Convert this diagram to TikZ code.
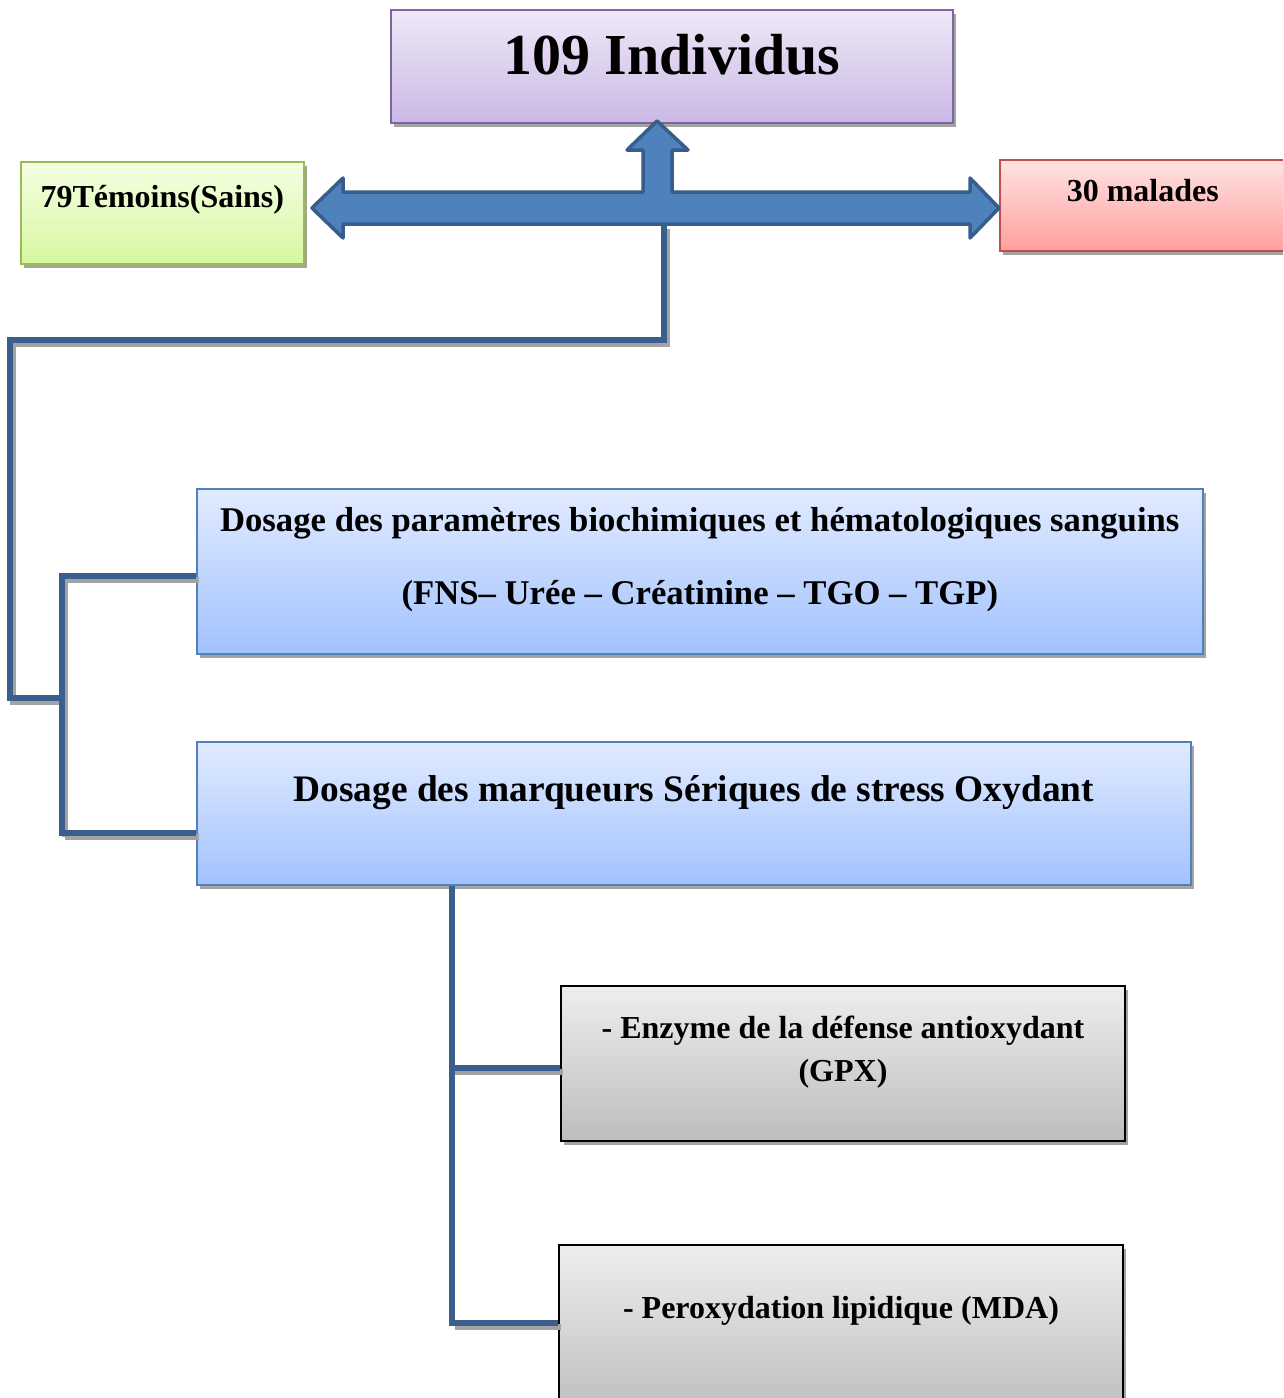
\documentclass[tikz,border=0pt]{standalone}
\usepackage{fontspec}
\setmainfont{Liberation Serif}
\usetikzlibrary{shadows,calc}
\definecolor{lineblue}{HTML}{3A5F8F}
\definecolor{arrowfill}{HTML}{4F81BD}
\definecolor{arrowedge}{HTML}{385D8A}
\definecolor{shadowgray}{HTML}{A3A3A3}
\definecolor{purpleedge}{HTML}{8064A2}
\definecolor{purpletop}{HTML}{EEE9F7}
\definecolor{purplebot}{HTML}{CBB8E5}
\definecolor{greenedge}{HTML}{9BBB59}
\definecolor{greentop}{HTML}{F5FFE3}
\definecolor{greenbot}{HTML}{D7F7A0}
\definecolor{rededge}{HTML}{C0504D}
\definecolor{redtop}{HTML}{FFE3E3}
\definecolor{redbot}{HTML}{FF9E9E}
\definecolor{blueedge}{HTML}{4F81BD}
\definecolor{bluetop}{HTML}{E1EBFF}
\definecolor{bluebot}{HTML}{A2C2FE}
\definecolor{graytop}{HTML}{EEEEEE}
\definecolor{graybot}{HTML}{BDBDBD}
\tikzset{
  boxbase/.style={rectangle, anchor=north west, inner sep=0pt, line width=1.6pt,
    drop shadow={shadow xshift=3pt, shadow yshift=-4pt, fill=shadowgray, opacity=1}},
  purplebox/.style={boxbase, draw=purpleedge, top color=purpletop, bottom color=purplebot},
  greenbox/.style={boxbase, draw=greenedge, top color=greentop, bottom color=greenbot},
  redbox/.style={boxbase, draw=rededge, top color=redtop, bottom color=redbot},
  bluebox/.style={boxbase, draw=blueedge, top color=bluetop, bottom color=bluebot},
  graybox/.style={boxbase, line width=2pt, draw=black, top color=graytop, bottom color=graybot},
  label/.style={inner sep=0pt, align=center, font=\bfseries},
  conn/.style={draw=lineblue, line width=6pt},
  connshadow/.style={draw=shadowgray, line width=6pt, transform canvas={xshift=3pt, yshift=-4pt}},
}
\begin{document}
\begin{tikzpicture}[x=1pt, y=-1pt]
\clip (0,0) rectangle (1283,1398);
\fill[white] (0,0) rectangle (1283,1398);

% boxes
\node[purplebox, minimum width=562pt, minimum height=113pt] (b0) at (390,9) {};
\node[greenbox, minimum width=283pt, minimum height=102pt] (bg) at (20,161) {};
\node[redbox, minimum width=284pt, minimum height=91pt] (br) at (999,159) {};
\node[bluebox, minimum width=1006pt, minimum height=165pt] (b1) at (196,488) {};
\node[bluebox, minimum width=994pt, minimum height=143pt] (b2) at (196,741) {};
\node[graybox, minimum width=564pt, minimum height=155pt] (b3) at (560,985) {};
\node[graybox, minimum width=564pt, minimum height=170pt] (b4) at (558,1244) {};

% texts
\node[label, font=\bfseries\fontsize{58}{60}\selectfont] (t0) at ($(b0.north)+(0,46)$) {109 Individus};
\node[label, font=\bfseries\fontsize{32}{36}\selectfont] (tg) at ($(bg.north)+(0,39)$) {79Témoins(Sains)};
\node[label, font=\bfseries\fontsize{32}{36}\selectfont] (tr) at ($(br.north)+(1,32)$) {30 malades};
\node[label, font=\bfseries\fontsize{34.7}{38}\selectfont] (t1a) at ($(b1.north)+(0,35)$) {Dosage des paramètres biochimiques et hématologiques sanguins};
\node[label, font=\bfseries\fontsize{34.7}{38}\selectfont] (t1b) at ($(b1.north)+(0,108)$) {(FNS– Urée – Créatinine – TGO – TGP)};
\node[label, font=\bfseries\fontsize{37.4}{40}\selectfont] (t2) at ($(b2.north)+(0,52)$) {Dosage des marqueurs Sériques de stress Oxydant};
\node[label, font=\bfseries\fontsize{32}{43}\selectfont] (t3) at ($(b3.north)+(0,67)$) {- Enzyme de la défense antioxydant\\(GPX)};
\node[label, font=\bfseries\fontsize{32}{36}\selectfont] (t4) at ($(b4.north)+(0,67)$) {- Peroxydation lipidique (MDA)};

% block arrow
\draw[fill=arrowfill, draw=arrowedge, line width=3.5pt, line join=round]
  (312,208) -- (343,178) -- (343,192) -- (643,192) -- (643,150) -- (627,150)
  -- (657,121) -- (688,150) -- (672,150) -- (672,192) -- (970,192) -- (970,178)
  -- (999,208) -- (970,238) -- (970,224) -- (343,224) -- (343,238) -- cycle;
\coordinate (abot) at (664,225);
\coordinate (j1) at (10,698);
\coordinate (j2) at (62,698);

% connectors: shadows
\path[connshadow] (abot) -- (664,340) -- (10,340) -- (j1) -- (j2);
\path[connshadow] (j2 |- 0,576) -- (j2 |- 0,833);
\path[connshadow] (j2 |- 0,576) -- (b1.west |- 0,576);
\path[connshadow] (j2 |- 0,833) -- (b2.west |- 0,833);
\path[connshadow] (452,1068) -- (b3.west |- 0,1068);
\path[connshadow] (452,1323) -- (b4.west |- 0,1323);
% connectors
\path[conn] (abot) -- (664,340) -- (10,340) -- (j1) -- (j2);
\path[conn] (62,573) -- (62,836);
\path[conn] (59,576) -- (b1.west |- 0,576);
\path[conn] (59,833) -- (b2.west |- 0,833);
\path[conn] (b2.south -| 452,0) -- (452,1326);
\path[conn] (449,1068) -- (b3.west |- 0,1068);
\path[conn] (449,1323) -- (b4.west |- 0,1323);
\end{tikzpicture}
\end{document}
